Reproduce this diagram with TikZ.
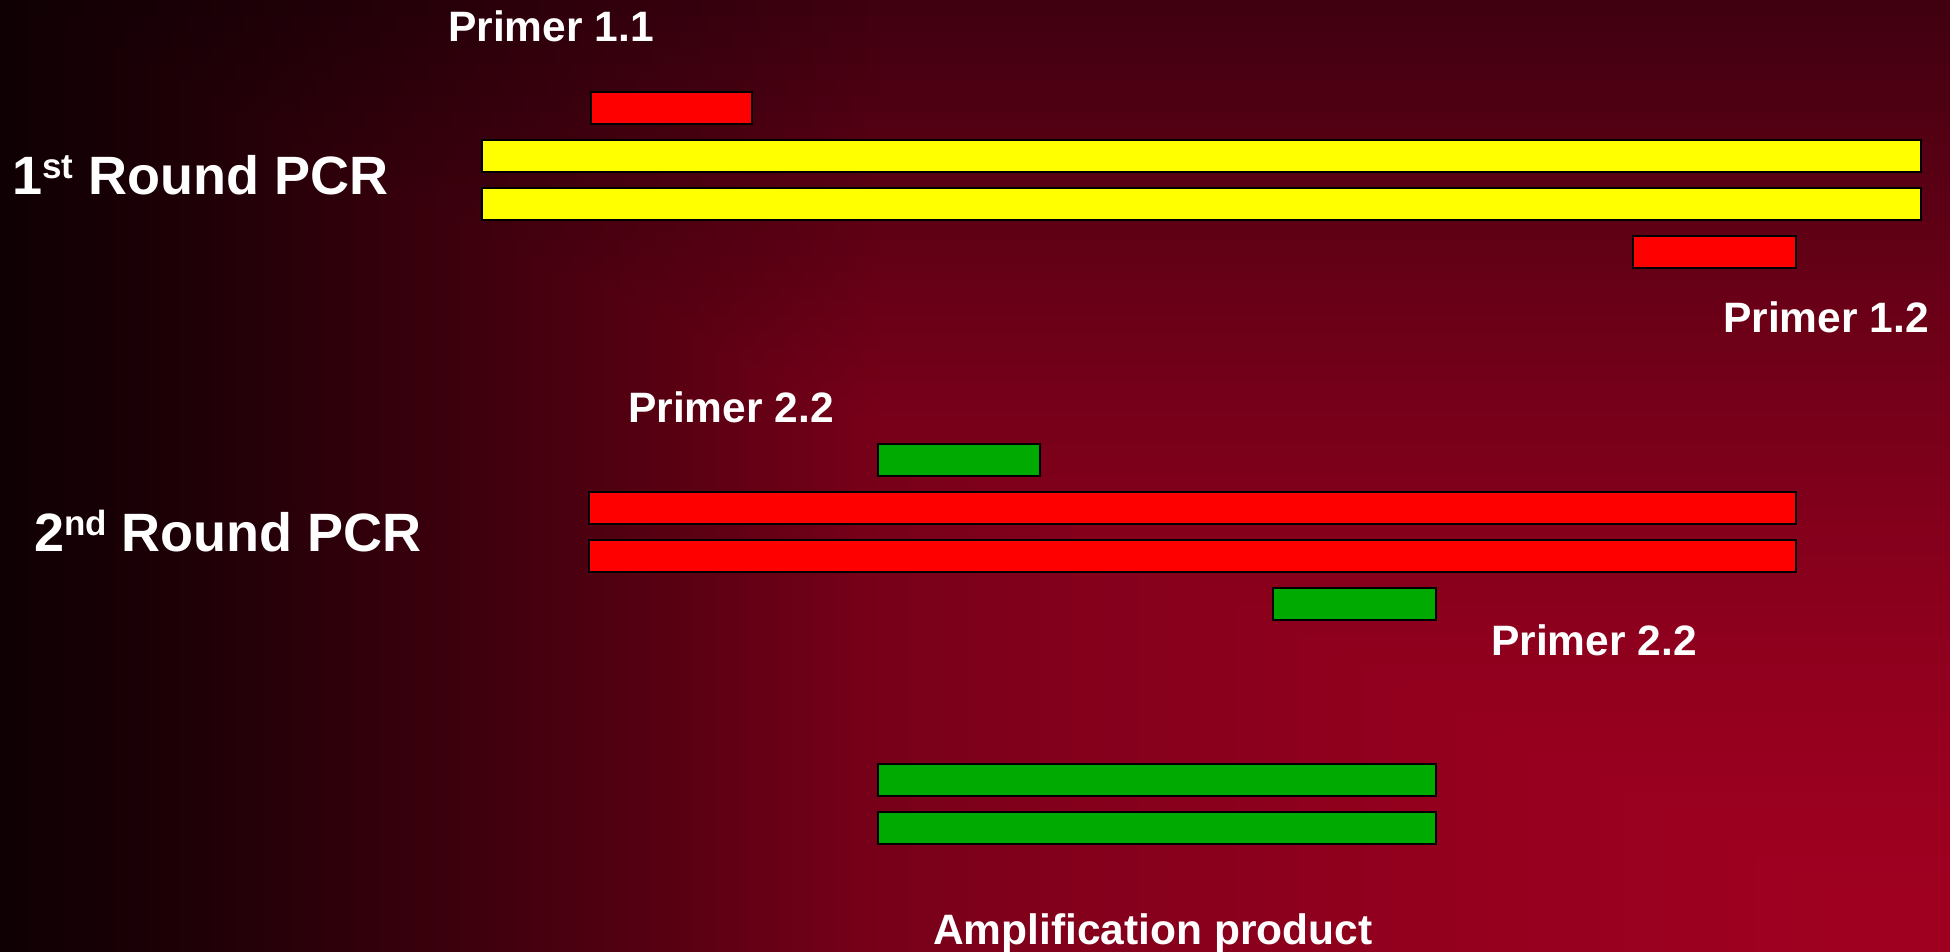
\documentclass[tikz,border=0pt]{standalone}
\usepackage{fontspec}
\setmainfont{Liberation Sans}
\usetikzlibrary{fadings}
\tikzfading[name=leftdark, left color=transparent!24, right color=transparent!100]
\definecolor{barred}{RGB}{255,0,0}
\definecolor{baryellow}{RGB}{255,255,0}
\definecolor{bargreen}{RGB}{0,170,0}
\newcommand\supx[1]{\raisebox{16pt}{\fontsize{35}{35}\selectfont #1}}
\begin{document}
\begin{tikzpicture}[x=1pt,y=-1pt,
  bar/.style={draw=black, line width=1.8pt, inner sep=0pt, outer sep=0pt,
              minimum height=32pt, anchor=north west},
  lbl/.style={text=white, inner sep=0pt, anchor=base west,
              font=\bfseries\fontsize{42.5}{50}\selectfont},
  biglbl/.style={text=white, inner sep=0pt, anchor=base west,
              font=\bfseries\fontsize{54}{60}\selectfont}]
\useasboundingbox (0,0) rectangle (1950,952);
\begin{scope}
\clip (0,0) rectangle (1950,952);
% background: rectangular path gradient from the bottom-right corner
\foreach \k in {60,59,...,1}{
  \pgfmathsetmacro\s{(\k-0.5)/60}
  \pgfmathsetmacro\rr{(160-97*pow(\s,1.5))/255}
  \pgfmathsetmacro\bb{(32-16*pow(\s,1.5))/255}
  \definecolor{bgc}{rgb}{\rr,0,\bb}
  \fill[bgc] ({1950*(1-\k/60)},{952*(1-\k/60)}) rectangle (1951,953);
}
\fill[black, path fading=leftdark] (0,-20) rectangle (880,972);
\end{scope}

% 1st round
\node[bar, fill=barred, minimum width=161pt] (p11) at (591,92) {};
\node[bar, fill=baryellow, minimum width=1439pt] (y1) at (482,140) {};
\node[bar, fill=baryellow, minimum width=1439pt] (y2) at (482,188) {};
\node[bar, fill=barred, minimum width=163pt] (p12) at (1633,236) {};

% 2nd round
\node[bar, fill=bargreen, minimum width=162pt] (p22a) at (878,444) {};
\node[bar, fill=barred, minimum width=1207pt] (r1bar) at (589,492) {};
\node[bar, fill=barred, minimum width=1207pt] (r2bar) at (589,540) {};
\node[bar, fill=bargreen, minimum width=163pt] (p22b) at (1273,588) {};

% product
\node[bar, fill=bargreen, minimum width=558pt] (g1) at (878,764) {};
\node[bar, fill=bargreen, minimum width=558pt] (g2) at (878,812) {};

% labels
\node[lbl] (t11) at (448,42) {Primer 1.1};
\node[lbl] (t12) at (1723,332) {Primer 1.2};
\node[lbl] (t22a) at (628,422) {Primer 2.2};
\node[lbl] (t22b) at (1491,655) {Primer 2.2};
\node[lbl] (tamp) at (933,944) {Amplification product};
\node[biglbl] (round1) at (12,194) {1\supx{st} Round PCR};
\node[biglbl] (round2) at (34,551) {2\supx{nd} Round PCR};
\end{tikzpicture}
\end{document}
